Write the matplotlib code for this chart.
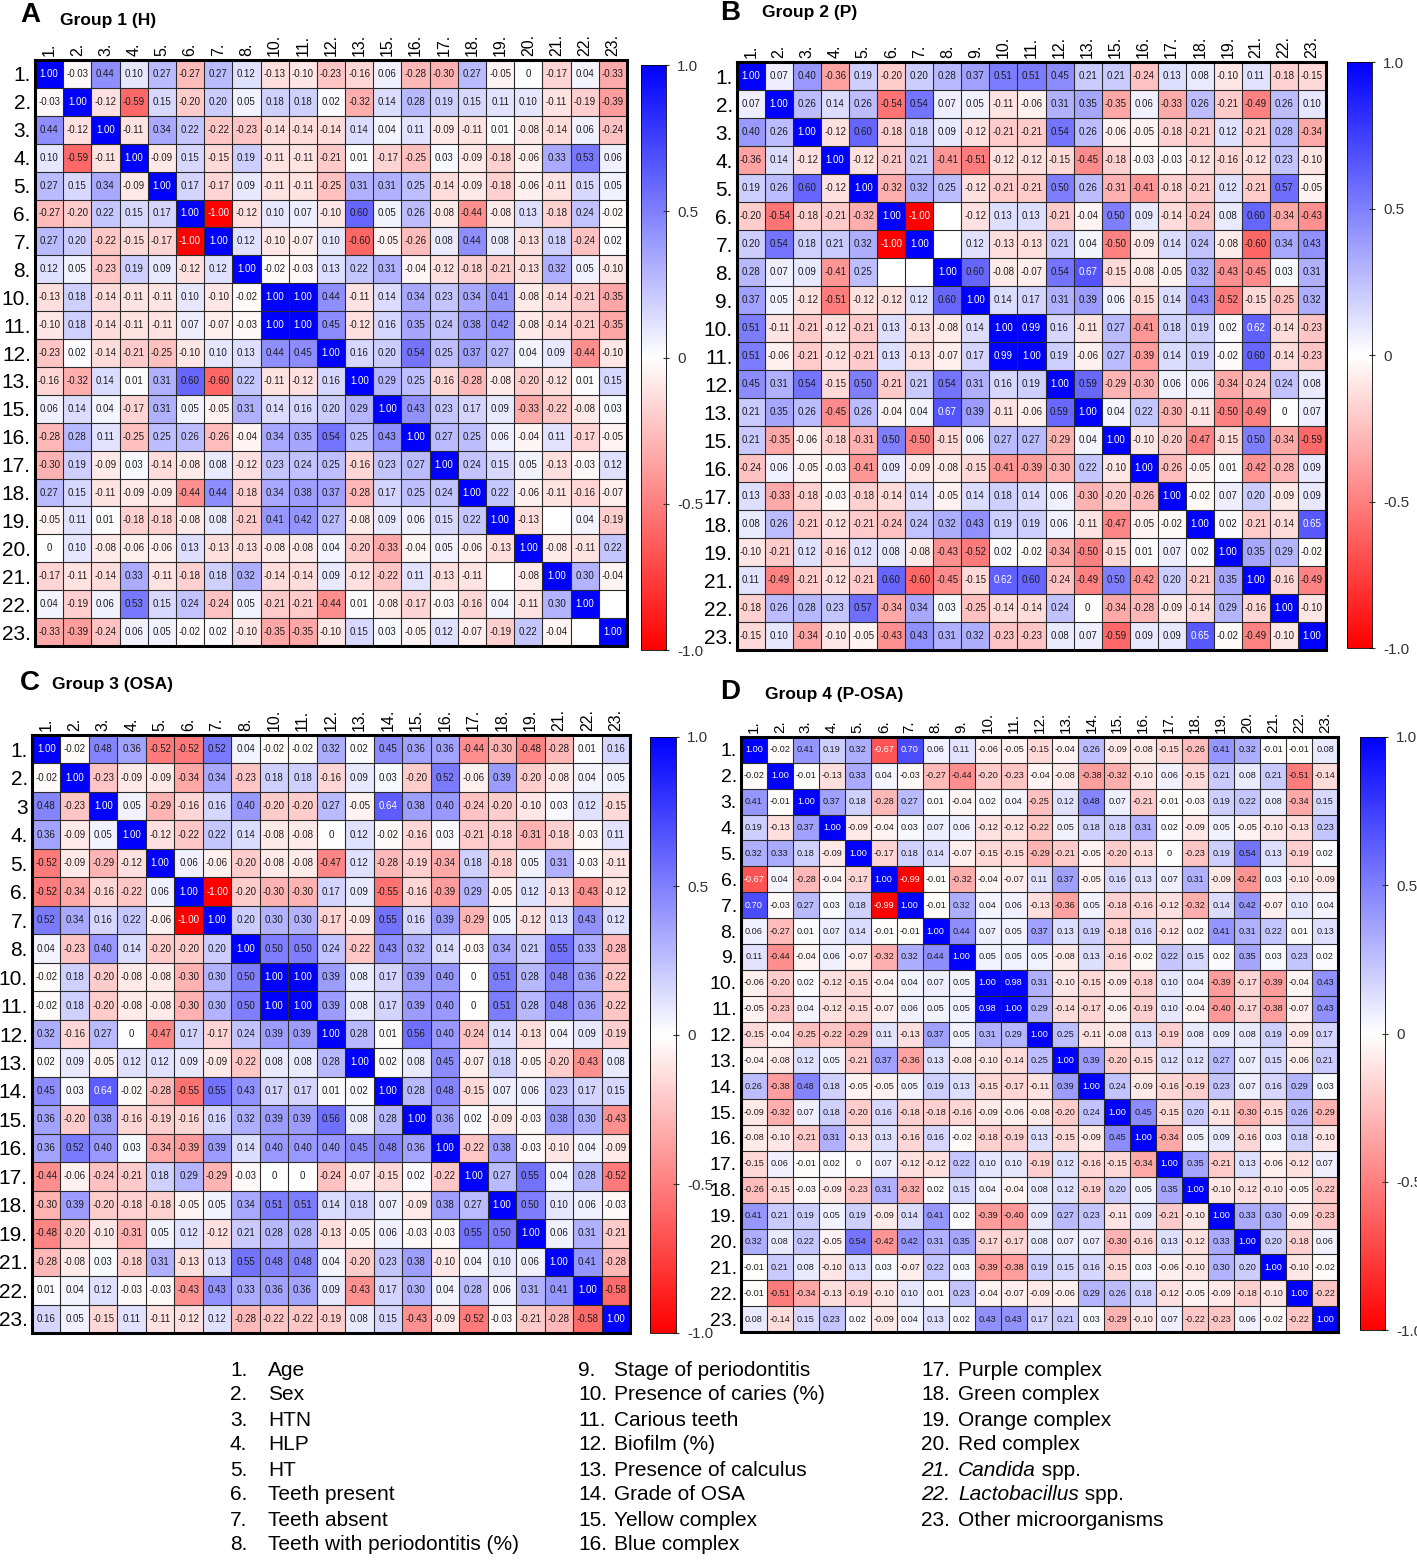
import matplotlib
matplotlib.use("Agg")
import matplotlib.pyplot as plt
import numpy as np
from matplotlib.colors import LinearSegmentedColormap, Normalize
from matplotlib.cm import ScalarMappable

plt.rcParams["font.family"] = ["Liberation Sans", "DejaVu Sans"]

# variable numbers shown in each group
labels_g1 = [1, 2, 3, 4, 5, 6, 7, 8, 10, 11, 12, 13, 15, 16, 17, 18, 19, 20, 21, 22, 23]
labels_g2 = [1, 2, 3, 4, 5, 6, 7, 8, 9, 10, 11, 12, 13, 15, 16, 17, 18, 19, 21, 22, 23]
labels_g3 = [1, 2, 3, 4, 5, 6, 7, 8, 10, 11, 12, 13, 14, 15, 16, 17, 18, 19, 21, 22, 23]
labels_g4 = list(range(1, 24))

# lower triangles (below diagonal), None = blank cell
lower_g1 = [
    [],
    [-0.03],
    [0.44, -0.12],
    [0.10, -0.59, -0.11],
    [0.27, 0.15, 0.34, -0.09],
    [-0.27, -0.20, 0.22, 0.15, 0.17],
    [0.27, 0.20, -0.22, -0.15, -0.17, -1.00],
    [0.12, 0.05, -0.23, 0.19, 0.09, -0.12, 0.12],
    [-0.13, 0.18, -0.14, -0.11, -0.11, 0.10, -0.10, -0.02],
    [-0.10, 0.18, -0.14, -0.11, -0.11, 0.07, -0.07, -0.03, 1.00],
    [-0.23, 0.02, -0.14, -0.21, -0.25, -0.10, 0.10, 0.13, 0.44, 0.45],
    [-0.16, -0.32, 0.14, 0.01, 0.31, 0.60, -0.60, 0.22, -0.11, -0.12, 0.16],
    [0.06, 0.14, 0.04, -0.17, 0.31, 0.05, -0.05, 0.31, 0.14, 0.16, 0.20, 0.29],
    [-0.28, 0.28, 0.11, -0.25, 0.25, 0.26, -0.26, -0.04, 0.34, 0.35, 0.54, 0.25, 0.43],
    [-0.30, 0.19, -0.09, 0.03, -0.14, -0.08, 0.08, -0.12, 0.23, 0.24, 0.25, -0.16, 0.23, 0.27],
    [0.27, 0.15, -0.11, -0.09, -0.09, -0.44, 0.44, -0.18, 0.34, 0.38, 0.37, -0.28, 0.17, 0.25, 0.24],
    [-0.05, 0.11, 0.01, -0.18, -0.18, -0.08, 0.08, -0.21, 0.41, 0.42, 0.27, -0.08, 0.09, 0.06, 0.15, 0.22],
    [0, 0.10, -0.08, -0.06, -0.06, 0.13, -0.13, -0.13, -0.08, -0.08, 0.04, -0.20, -0.33, -0.04, 0.05, -0.06, -0.13],
    [-0.17, -0.11, -0.14, 0.33, -0.11, -0.18, 0.18, 0.32, -0.14, -0.14, 0.09, -0.12, -0.22, 0.11, -0.13, -0.11, None, -0.08],
    [0.04, -0.19, 0.06, 0.53, 0.15, 0.24, -0.24, 0.05, -0.21, -0.21, -0.44, 0.01, -0.08, -0.17, -0.03, -0.16, 0.04, -0.11, 0.30],
    [-0.33, -0.39, -0.24, 0.06, 0.05, -0.02, 0.02, -0.10, -0.35, -0.35, -0.10, 0.15, 0.03, -0.05, 0.12, -0.07, -0.19, 0.22, -0.04, None],
]

lower_g2 = [
    [],
    [0.07],
    [0.40, 0.26],
    [-0.36, 0.14, -0.12],
    [0.19, 0.26, 0.60, -0.12],
    [-0.20, -0.54, -0.18, -0.21, -0.32],
    [0.20, 0.54, 0.18, 0.21, 0.32, -1.00],
    [0.28, 0.07, 0.09, -0.41, 0.25, None, None],
    [0.37, 0.05, -0.12, -0.51, -0.12, -0.12, 0.12, 0.60],
    [0.51, -0.11, -0.21, -0.12, -0.21, 0.13, -0.13, -0.08, 0.14],
    [0.51, -0.06, -0.21, -0.12, -0.21, 0.13, -0.13, -0.07, 0.17, 0.99],
    [0.45, 0.31, 0.54, -0.15, 0.50, -0.21, 0.21, 0.54, 0.31, 0.16, 0.19],
    [0.21, 0.35, 0.26, -0.45, 0.26, -0.04, 0.04, 0.67, 0.39, -0.11, -0.06, 0.59],
    [0.21, -0.35, -0.06, -0.18, -0.31, 0.50, -0.50, -0.15, 0.06, 0.27, 0.27, -0.29, 0.04],
    [-0.24, 0.06, -0.05, -0.03, -0.41, 0.09, -0.09, -0.08, -0.15, -0.41, -0.39, -0.30, 0.22, -0.10],
    [0.13, -0.33, -0.18, -0.03, -0.18, -0.14, 0.14, -0.05, 0.14, 0.18, 0.14, 0.06, -0.30, -0.20, -0.26],
    [0.08, 0.26, -0.21, -0.12, -0.21, -0.24, 0.24, 0.32, 0.43, 0.19, 0.19, 0.06, -0.11, -0.47, -0.05, -0.02],
    [-0.10, -0.21, 0.12, -0.16, 0.12, 0.08, -0.08, -0.43, -0.52, 0.02, -0.02, -0.34, -0.50, -0.15, 0.01, 0.07, 0.02],
    [0.11, -0.49, -0.21, -0.12, -0.21, 0.60, -0.60, -0.45, -0.15, 0.62, 0.60, -0.24, -0.49, 0.50, -0.42, 0.20, -0.21, 0.35],
    [-0.18, 0.26, 0.28, 0.23, 0.57, -0.34, 0.34, 0.03, -0.25, -0.14, -0.14, 0.24, 0, -0.34, -0.28, -0.09, -0.14, 0.29, -0.16],
    [-0.15, 0.10, -0.34, -0.10, -0.05, -0.43, 0.43, 0.31, 0.32, -0.23, -0.23, 0.08, 0.07, -0.59, 0.09, 0.09, 0.65, -0.02, -0.49, -0.10],
]

lower_g3 = [
    [],
    [-0.02],
    [0.48, -0.23],
    [0.36, -0.09, 0.05],
    [-0.52, -0.09, -0.29, -0.12],
    [-0.52, -0.34, -0.16, -0.22, 0.06],
    [0.52, 0.34, 0.16, 0.22, -0.06, -1.00],
    [0.04, -0.23, 0.40, 0.14, -0.20, -0.20, 0.20],
    [-0.02, 0.18, -0.20, -0.08, -0.08, -0.30, 0.30, 0.50],
    [-0.02, 0.18, -0.20, -0.08, -0.08, -0.30, 0.30, 0.50, 1.00],
    [0.32, -0.16, 0.27, 0, -0.47, 0.17, -0.17, 0.24, 0.39, 0.39],
    [0.02, 0.09, -0.05, 0.12, 0.12, 0.09, -0.09, -0.22, 0.08, 0.08, 0.28],
    [0.45, 0.03, 0.64, -0.02, -0.28, -0.55, 0.55, 0.43, 0.17, 0.17, 0.01, 0.02],
    [0.36, -0.20, 0.38, -0.16, -0.19, -0.16, 0.16, 0.32, 0.39, 0.39, 0.56, 0.08, 0.28],
    [0.36, 0.52, 0.40, 0.03, -0.34, -0.39, 0.39, 0.14, 0.40, 0.40, 0.40, 0.45, 0.48, 0.36],
    [-0.44, -0.06, -0.24, -0.21, 0.18, 0.29, -0.29, -0.03, 0, 0, -0.24, -0.07, -0.15, 0.02, -0.22],
    [-0.30, 0.39, -0.20, -0.18, -0.18, -0.05, 0.05, 0.34, 0.51, 0.51, 0.14, 0.18, 0.07, -0.09, 0.38, 0.27],
    [-0.48, -0.20, -0.10, -0.31, 0.05, 0.12, -0.12, 0.21, 0.28, 0.28, -0.13, -0.05, 0.06, -0.03, -0.03, 0.55, 0.50],
    [-0.28, -0.08, 0.03, -0.18, 0.31, -0.13, 0.13, 0.55, 0.48, 0.48, 0.04, -0.20, 0.23, 0.38, -0.10, 0.04, 0.10, 0.06],
    [0.01, 0.04, 0.12, -0.03, -0.03, -0.43, 0.43, 0.33, 0.36, 0.36, 0.09, -0.43, 0.17, 0.30, 0.04, 0.28, 0.06, 0.31, 0.41],
    [0.16, 0.05, -0.15, 0.11, -0.11, -0.12, 0.12, -0.28, -0.22, -0.22, -0.19, 0.08, 0.15, -0.43, -0.09, -0.52, -0.03, -0.21, -0.28, -0.58],
]

lower_g4 = [
    [],
    [-0.02],
    [0.41, -0.01],
    [0.19, -0.13, 0.37],
    [0.32, 0.33, 0.18, -0.09],
    [-0.67, 0.04, -0.28, -0.04, -0.17],
    [0.70, -0.03, 0.27, 0.03, 0.18, -0.99],
    [0.06, -0.27, 0.01, 0.07, 0.14, -0.01, -0.01],
    [0.11, -0.44, -0.04, 0.06, -0.07, -0.32, 0.32, 0.44],
    [-0.06, -0.20, 0.02, -0.12, -0.15, -0.04, 0.04, 0.07, 0.05],
    [-0.05, -0.23, 0.04, -0.12, -0.15, -0.07, 0.06, 0.05, 0.05, 0.98],
    [-0.15, -0.04, -0.25, -0.22, -0.29, 0.11, -0.13, 0.37, 0.05, 0.31, 0.29],
    [-0.04, -0.08, 0.12, 0.05, -0.21, 0.37, -0.36, 0.13, -0.08, -0.10, -0.14, 0.25],
    [0.26, -0.38, 0.48, 0.18, -0.05, -0.05, 0.05, 0.19, 0.13, -0.15, -0.17, -0.11, 0.39],
    [-0.09, -0.32, 0.07, 0.18, -0.20, 0.16, -0.18, -0.18, -0.16, -0.09, -0.06, -0.08, -0.20, 0.24],
    [-0.08, -0.10, -0.21, 0.31, -0.13, 0.13, -0.16, 0.16, -0.02, -0.18, -0.19, 0.13, -0.15, -0.09, 0.45],
    [-0.15, 0.06, -0.01, 0.02, 0, 0.07, -0.12, -0.12, 0.22, 0.10, 0.10, -0.19, 0.12, -0.16, -0.15, -0.34],
    [-0.26, -0.15, -0.03, -0.09, -0.23, 0.31, -0.32, 0.02, 0.15, 0.04, -0.04, 0.08, 0.12, -0.19, 0.20, 0.05, 0.35],
    [0.41, 0.21, 0.19, 0.05, 0.19, -0.09, 0.14, 0.41, 0.02, -0.39, -0.40, 0.09, 0.27, 0.23, -0.11, 0.09, -0.21, -0.10],
    [0.32, 0.08, 0.22, -0.05, 0.54, -0.42, 0.42, 0.31, 0.35, -0.17, -0.17, 0.08, 0.07, 0.07, -0.30, -0.16, 0.13, -0.12, 0.33],
    [-0.01, 0.21, 0.08, -0.10, 0.13, 0.03, -0.07, 0.22, 0.03, -0.39, -0.38, 0.19, 0.15, 0.16, -0.15, 0.03, -0.06, -0.10, 0.30, 0.20],
    [-0.01, -0.51, -0.34, -0.13, -0.19, -0.10, 0.10, 0.01, 0.23, -0.04, -0.07, -0.09, -0.06, 0.29, 0.26, 0.18, -0.12, -0.05, -0.09, -0.18, -0.10],
    [0.08, -0.14, 0.15, 0.23, 0.02, -0.09, 0.04, 0.13, 0.02, 0.43, 0.43, 0.17, 0.21, 0.03, -0.29, -0.10, 0.07, -0.22, -0.23, 0.06, -0.02, -0.22],
]

titles = ["Group 1 (H)", "Group 2 (P)", "Group 3 (OSA)", "Group 4 (P-OSA)"]
letters = ["A", "B", "C", "D"]

legend_col1 = ["Age", "Sex", "HTN", "HLP", "HT", "Teeth present", "Teeth absent",
               "Teeth with periodontitis (%)"]
legend_col2 = ["Stage of periodontitis", "Presence of caries (%)", "Carious teeth",
               "Biofilm (%)", "Presence of calculus", "Grade of OSA",
               "Yellow complex", "Blue complex"]
legend_col3 = ["Purple complex", "Green complex", "Orange complex", "Red complex",
               ("Candida", " spp."), ("Lactobacillus", " spp."), "Other microorganisms"]

W, H = 1417, 1560
fig = plt.figure(figsize=(W / 100, H / 100), dpi=100)
cmap = LinearSegmentedColormap.from_list("rwb", ["#ff0000", "#ffffff", "#0000ff"])
norm = Normalize(-1, 1)


def px_axes(x0, y0, x1, y1):
    return fig.add_axes([x0 / W, 1 - y1 / H, (x1 - x0) / W, (y1 - y0) / H])


def full_matrix(lower):
    n = len(lower)
    m = np.eye(n)
    for i, row in enumerate(lower):
        for j, v in enumerate(row):
            v = np.nan if v is None else v
            m[i, j] = v
            m[j, i] = v
    return m


def fmt(v):
    if v == 0:
        return "0"
    return f"{v:.2f}"


def heatmap(box, cbox, labels, lower, cell_fs, row_fs, col_fs, row_names=None):
    m = full_matrix(lower)
    n = len(labels)
    ax = px_axes(*box)
    ax.pcolormesh(np.ma.masked_invalid(m), cmap=cmap, norm=norm)
    ax.hlines(np.arange(1, n), 0, n, color="#2a2a2a", lw=0.8)
    ax.vlines(np.arange(1, n), 0, n, color="#2a2a2a", lw=0.8)
    ax.set_xlim(0, n)
    ax.set_ylim(n, 0)
    for i in range(n):
        for j in range(n):
            v = m[i, j]
            if np.isnan(v):
                continue
            c = "white" if abs(v) > 0.61 else "#1e1e1e"
            ax.text(j + 0.5, i + 0.5, fmt(v), ha="center", va="center",
                    fontsize=cell_fs, color=c)
    ax.xaxis.tick_top()
    ax.set_xticks(np.arange(n) + 0.5)
    ax.set_xticklabels([f"{k}." for k in labels], rotation=90, fontsize=col_fs)
    ax.set_yticks(np.arange(n) + 0.5)
    if row_names is None:
        row_names = [f"{k}." for k in labels]
    ax.set_yticklabels(row_names, fontsize=row_fs)
    ax.tick_params(length=0, pad=3)
    for s in ax.spines.values():
        s.set_linewidth(2.2)

    cax = px_axes(*cbox)
    cb = fig.colorbar(ScalarMappable(norm=norm, cmap=cmap), cax=cax,
                      ticks=[-1, -0.5, 0, 0.5, 1])
    cb.ax.set_yticklabels(["-1.0", "-0.5", "0", "0.5", "1.0"])
    cb.ax.tick_params(labelsize=11, length=4, width=0.8, direction="inout",
                      colors="#333333", pad=6)
    cb.outline.set_linewidth(0.6)
    return ax


heatmap((35, 60, 627, 646), (641, 65, 666, 650), labels_g1, lower_g1, 7.0, 15, 11.5)
heatmap((737, 62, 1326, 650), (1347, 62, 1372, 648), labels_g2, lower_g2, 7.0, 15, 11.5)
rows_c = [f"{k}." for k in labels_g3]
rows_c[2] = "3"
heatmap((32, 735, 630, 1333), (650, 737, 676, 1333), labels_g3, lower_g3, 7.0, 15, 11.5,
        row_names=rows_c)
heatmap((741, 737, 1338, 1332), (1360, 737, 1385, 1330), labels_g4, lower_g4, 6.6, 14, 11)

# panel letters and titles
letter_pos = [(20, 15), (720, 13), (20, 683), (720, 692)]
title_pos = [(60, 20), (762, 12), (52, 684), (765, 694)]
for let, (lx, ly), t, (tx, ty) in zip(letters, letter_pos, titles, title_pos):
    fig.text(lx / W, 1 - ly / H, let, fontsize=20, fontweight="bold", va="center")
    fig.text(tx / W, 1 - ty / H, t, fontsize=12.5, fontweight="bold", va="center")

# legend of variable names
leg_fs = 15
y0, dy = 1370, 25
for k, name in enumerate(legend_col1):
    y = 1 - (y0 + k * dy) / H
    fig.text(230 / W, y, f"{k + 1}.", fontsize=leg_fs, va="center")
    fig.text(268 / W, y, name, fontsize=leg_fs, va="center")
for k, name in enumerate(legend_col2):
    y = 1 - (y0 + k * dy) / H
    fig.text(578 / W, y, f"{k + 9}.", fontsize=leg_fs, va="center")
    fig.text(614 / W, y, name, fontsize=leg_fs, va="center")

renderer = fig.canvas.get_renderer()
for k, name in enumerate(legend_col3):
    y = 1 - (y0 + k * dy) / H
    num = f"{k + 17}."
    if isinstance(name, tuple):
        fig.text(921 / W, y, num, fontsize=leg_fs, va="center", style="italic")
        t = fig.text(958 / W, y, name[0], fontsize=leg_fs, va="center", style="italic")
        bb = t.get_window_extent(renderer)
        fig.text(bb.x1 / W, y, name[1], fontsize=leg_fs, va="center")
    else:
        fig.text(921 / W, y, num, fontsize=leg_fs, va="center")
        fig.text(958 / W, y, name, fontsize=leg_fs, va="center")

fig.savefig("out.png", dpi=100)
